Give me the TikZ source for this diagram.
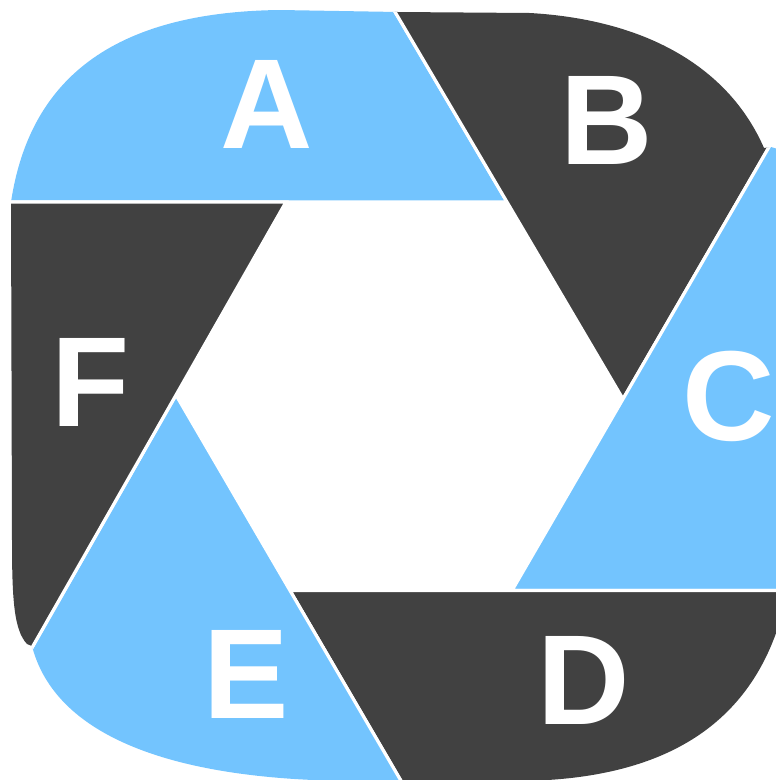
\documentclass[tikz,border=0pt]{standalone}
\usepackage{fontspec}
\setmainfont{Liberation Sans}
\usepackage{tikz}
\usetikzlibrary{calc}
\definecolor{shutterblue}{RGB}{115,196,254}
\definecolor{shutterdark}{RGB}{65,65,65}

\begin{document}
\begin{tikzpicture}[
  x=1pt,y=-1pt,
  bladel/.style={fill=shutterblue,draw=white,line width=3.2pt},
  bladed/.style={fill=shutterdark,draw=white,line width=3.2pt},
  lbl/.style={text=white,inner sep=0pt,font=\fontsize{128pt}{128pt}\selectfont\bfseries}
]
\useasboundingbox (0,0) rectangle (776,780);
% inner hexagon
\coordinate (v1) at (286,202);
\coordinate (v2) at (507,202);
\coordinate (v3) at (623,399);
\coordinate (v4) at (512,590.5);
\coordinate (v5) at (290,590.5);
\coordinate (v6) at (176,395);
% blade edges run on past the hexagon
\coordinate (fa) at ($(v1)!-3!(v2)$);
\coordinate (fb) at ($(v2)!-3!(v3)$);
\coordinate (fc) at ($(v3)!-3!(v4)$);
\coordinate (fd) at ($(v4)!-3!(v5)$);
\coordinate (fe) at ($(v5)!-3!(v6)$);
\coordinate (ff) at ($(v6)!-3!(v1)$);
\begin{scope}
\clip (11,202) .. controls (28,90) and (100,12) .. (280,10) -- (398,12) -- (530,13)
  .. controls (650,20) and (730,70) .. (764,148) -- (771,147) .. controls (782,150) .. (795,180)
  -- (795,520) .. controls (791,690) and (705,779) .. (520,781) -- (360,781)
  .. controls (170,781) and (55,735) .. (32,646) -- (27,644)
  .. controls (14,630) and (12,600) .. (12,540) -- cycle;
\filldraw[bladel] (v2) -- (v1) -- (fa) -- (fb) -- cycle;
\filldraw[bladed] (v3) -- (v2) -- (fb) -- (fc) -- cycle;
\filldraw[bladel] (v4) -- (v3) -- (fc) -- (fd) -- cycle;
\filldraw[bladed] (v5) -- (v4) -- (fd) -- (fe) -- cycle;
\filldraw[bladel] (v6) -- (v5) -- (fe) -- (ff) -- cycle;
\filldraw[bladed] (v1) -- (v6) -- (ff) -- (fa) -- cycle;
\end{scope}
\node[lbl] (la) at (267,104) {A};
\node[lbl] (lb) at (607,120) {B};
\node[lbl] (lc) at (729,396) {C};
\node[lbl] (ld) at (584,680) {D};
\node[lbl] (le) at (246,674) {E};
\node[lbl] (lf) at (91,382) {F};
\end{tikzpicture}
\end{document}
